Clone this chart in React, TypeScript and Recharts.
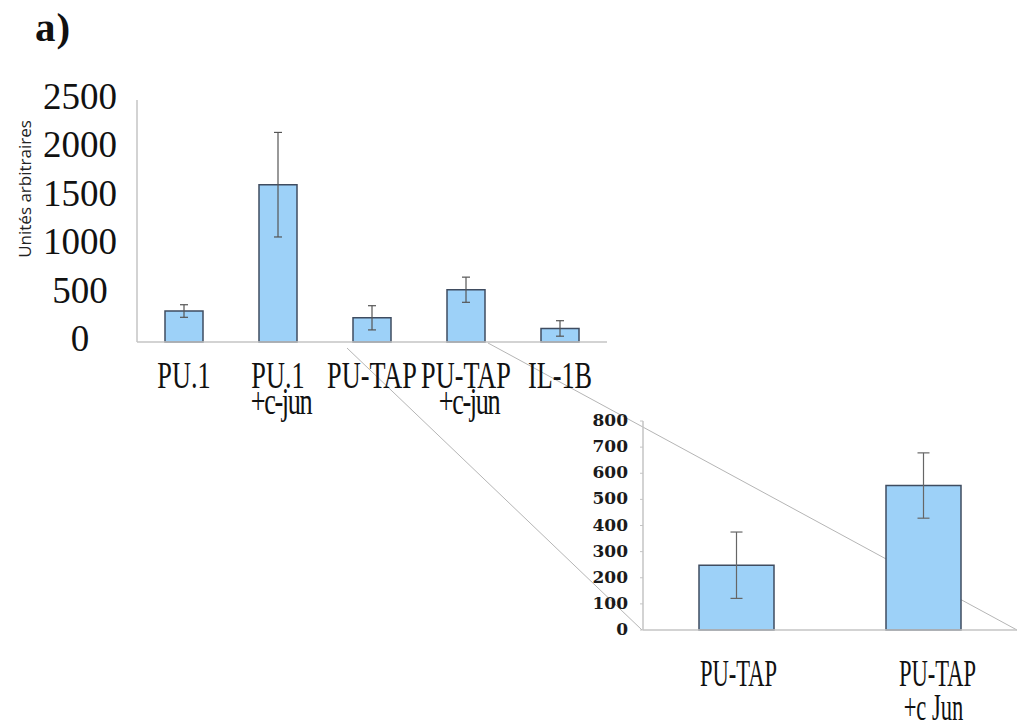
import React from 'react';
import { BarChart, Bar, XAxis, YAxis, ErrorBar } from 'recharts';

// ---- Main chart data ----
const categories = ['PU.1', 'PU.1 +c-jun', 'PU-TAP', 'PU-TAP +c-jun', 'IL-1B'];
const labelLine1 = ['PU.1', 'PU.1', 'PU-TAP', 'PU-TAP', 'IL-1B'];
const labelLine2 = ['', '+c-jun', '', '+c-jun', ''];
const values = [320, 1625, 250, 540, 140];
const errors = [65, 540, 125, 130, 80];
const yTicks = [0, 500, 1000, 1500, 2000, 2500];

// ---- Inset (zoom) chart data ----
const insetCategories = ['PU-TAP', 'PU-TAP +c Jun'];
const insetLine1 = ['PU-TAP', 'PU-TAP'];
const insetLine2 = ['', '+c Jun'];
const insetValues = [248, 553];
const insetErrors = [127, 125];
const insetTicks = [0, 100, 200, 300, 400, 500, 600, 700, 800];

const mainData = categories.map((c, i) => ({ name: c, value: values[i], err: errors[i] }));
const insetData = insetCategories.map((c, i) => ({ name: c, value: insetValues[i], err: insetErrors[i] }));

const BAR_FILL = '#9dd1f8';
const BAR_STROKE = '#3f4c60';
const AXIS = '#c4c4c4';
const SERIF = '"Liberation Serif", "Times New Roman", serif';

const MainYTick = (props: any) => {
  const { y, payload } = props;
  return (
    <text x={80} y={y + 9} textAnchor="middle" fontFamily={SERIF} fontSize={37} fill="#111">
      {payload.value}
    </text>
  );
};

const MainXTick = (props: any) => {
  const { x, y, index } = props;
  return (
    <g>
      <text
        transform={`translate(${x},${y + 46}) scale(0.71,1)`}
        textAnchor="middle"
        fontFamily={SERIF}
        fontSize={37}
        fill="#111"
      >
        {labelLine1[index]}
      </text>
      {labelLine2[index] ? (
        <text
          transform={`translate(${x + 3},${y + 72}) scale(0.71,1)`}
          textAnchor="middle"
          fontFamily={SERIF}
          fontSize={37}
          letterSpacing={-2}
          fill="#111"
        >
          {labelLine2[index]}
        </text>
      ) : null}
    </g>
  );
};

const InsetYTick = (props: any) => {
  const { y, payload } = props;
  return (
    <text x={108} y={y + 5} textAnchor="end" fontFamily='"DejaVu Serif", serif' fontWeight="bold" fontSize={17} fill="#1a1a1a">
      {payload.value}
    </text>
  );
};

const InsetXTick = (props: any) => {
  const { x, y, index } = props;
  return (
    <g>
      <text
        transform={`translate(${x + 2 + index * 12},${y + 56}) scale(0.61,1)`}
        textAnchor="middle"
        fontFamily={SERIF}
        fontSize={37}
        fill="#111"
      >
        {insetLine1[index]}
      </text>
      {insetLine2[index] ? (
        <text
          transform={`translate(${x + 10},${y + 90}) scale(0.61,1)`}
          textAnchor="middle"
          fontFamily={SERIF}
          fontSize={37}
          fill="#111"
        >
          {insetLine2[index]}
        </text>
      ) : null}
    </g>
  );
};

export default function App() {
  return (
    <div style={{ position: 'absolute', left: 0, top: 0, width: 1018, height: 725, background: '#fff', overflow: 'hidden' }}>
      <svg width={1018} height={725} style={{ position: 'absolute', left: 0, top: 0 }}>
        <line x1={347} y1={348} x2={642} y2={630} stroke="#b5b5b5" strokeWidth={1} />
        <line x1={488} y1={343} x2={1017} y2={630} stroke="#b5b5b5" strokeWidth={1} />
        <text x={35} y={41} fontFamily={SERIF} fontWeight="bold" fontSize={41} letterSpacing={1} fill="#111">a)</text>
        <text
          transform="translate(31,189) rotate(-90)"
          textAnchor="middle"
          fontFamily='"Open Sans", sans-serif'
          fontSize={17}
          fill="#222"
        >
          Unités arbitraires
        </text>
      </svg>

      <div style={{ position: 'absolute', left: 0, top: 0 }}>
        <BarChart width={620} height={440} data={mainData} margin={{ top: 100, right: 13, bottom: 18, left: 0 }}>
          <XAxis
            dataKey="name"
            height={80}
            interval={0}
            tickLine={false}
            tickSize={0}
            tickMargin={0}
            axisLine={{ stroke: AXIS, strokeWidth: 1.5 }}
            tick={<MainXTick />}
          />
          <YAxis
            width={137}
            domain={[0, 2500]}
            ticks={yTicks}
            interval={0}
            tickLine={false}
            axisLine={{ stroke: AXIS, strokeWidth: 1.5 }}
            tick={<MainYTick />}
          />
          <Bar dataKey="value" barSize={38} fill={BAR_FILL} stroke={BAR_STROKE} strokeWidth={1.5} isAnimationActive={false}>
            <ErrorBar dataKey="err" width={4} stroke="#555" strokeWidth={1.2} direction="y" />
          </Bar>
        </BarChart>
      </div>

      <div style={{ position: 'absolute', left: 520, top: 380 }}>
        <BarChart width={498} height={345} data={insetData} margin={{ top: 41, right: 1, bottom: 0, left: 0 }}>
          <XAxis
            dataKey="name"
            height={95}
            interval={0}
            tickLine={false}
            tickSize={0}
            tickMargin={0}
            axisLine={{ stroke: AXIS, strokeWidth: 1.5 }}
            tick={<InsetXTick />}
          />
          <YAxis
            width={123}
            domain={[0, 800]}
            ticks={insetTicks}
            interval={0}
            tickSize={3}
            tickLine={{ stroke: AXIS }}
            axisLine={{ stroke: AXIS, strokeWidth: 1.5 }}
            tick={<InsetYTick />}
          />
          <Bar dataKey="value" barSize={75} fill={BAR_FILL} stroke={BAR_STROKE} strokeWidth={1.5} isAnimationActive={false}>
            <ErrorBar dataKey="err" width={6} stroke="#666" strokeWidth={1.2} direction="y" />
          </Bar>
        </BarChart>
      </div>
    </div>
  );
}
